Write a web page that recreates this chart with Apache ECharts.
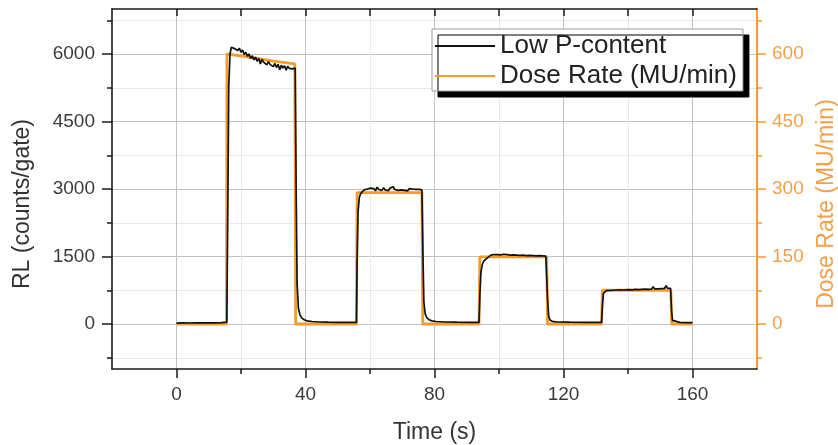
<!DOCTYPE html>
<html>
<head>
<meta charset="utf-8">
<title>RL response vs dose rate</title>
<script src="https://cdn.jsdelivr.net/npm/echarts@6/dist/echarts.min.js"></script>
<style>
  html, body { margin: 0; padding: 0; background: #fff; }
  #chart { width: 838px; height: 445px; }
</style>
</head>
<body>
<div id="chart"></div>
<script>
// Tick positions for each axis
const timeTicks = [0, 40, 80, 120, 160];
const timeMinorTicks = [20, 60, 100, 140];
const timeTopTicks = [0, 20, 40, 60, 80, 100, 120, 140, 160];
const rlTicks = [0, 1500, 3000, 4500, 6000];
const rlMinorTicks = [-750, 750, 2250, 3750, 5250, 6750];
const doseTicks = [0, 150, 300, 450, 600];
const doseMinorTicks = [-75, 75, 225, 375, 525, 675];

// Dose rate delivered by the linac, [time (s), MU/min]
const doseRate = [
  [0, 0], [15.5, 0], [15.65, 600], [20, 596], [25, 590], [30, 584], [36.7, 578], [36.95, 0],
  [55.8, 0], [56.0, 292], [76.1, 292], [76.35, 0],
  [93.8, 0], [94.05, 149], [114.8, 149], [115.05, 0],
  [131.8, 0], [132.05, 75], [153.3, 75], [153.55, 0], [160, 0]
];

// Radioluminescence signal, low P-content fibre, [time (s), counts/gate]
const lowPContent = [
  [0, 20], [2, 25], [4, 22], [6, 28], [8, 24], [10, 27], [12, 25], [14, 30], [15.6, 40],
  [15.9, 2500], [16.2, 5300], [16.6, 6000], [17.0, 6150], [17.5, 6180], [18.0, 6120], [18.5, 6160],
  [19.0, 6080], [19.5, 6130], [20.0, 6040], [20.5, 6090], [21.0, 5990], [21.5, 6040], [22.0, 5950],
  [22.5, 6000], [23.0, 5900], [23.5, 5960], [24.0, 5870], [24.5, 5930], [25.0, 5840], [25.5, 5900],
  [26.0, 5780], [26.5, 5880], [27.0, 5820], [27.5, 5860], [28.0, 5760], [28.5, 5830], [29.0, 5770],
  [29.5, 5810], [30.0, 5720], [30.5, 5790], [31.0, 5700], [31.5, 5770], [32.0, 5650], [32.5, 5750],
  [33.0, 5690], [33.5, 5740], [34.0, 5640], [34.5, 5730], [35.0, 5680], [35.5, 5720], [36.0, 5670],
  [36.4, 5710], [36.8, 5690], [37.1, 3000], [37.4, 900], [37.8, 350], [38.3, 200], [38.9, 130],
  [39.6, 95], [40.5, 70], [42, 55], [44, 45], [47, 40], [50, 38], [53, 35], [55.8, 35],
  [56.0, 1400], [56.3, 2500], [56.7, 2820], [57.2, 2910], [57.7, 2950], [58.2, 2980], [58.7, 2960],
  [59.2, 3000], [59.7, 2970], [60.2, 3020], [60.7, 2980], [61.2, 3010], [61.7, 2960], [62.2, 3040],
  [62.7, 2990], [63.2, 3020], [63.7, 2970], [64.2, 3030], [64.7, 2980], [65.2, 3010], [65.7, 2960],
  [66.2, 3020], [66.7, 2980], [67.2, 3050], [67.7, 2990], [68.2, 3020], [68.7, 2970], [69.2, 3010],
  [69.7, 2980], [70.2, 3020], [70.7, 2970], [71.2, 3000], [71.7, 2960], [72.2, 3010], [72.7, 2980],
  [73.2, 3000], [73.7, 2970], [74.2, 2990], [74.7, 2960], [75.2, 2990], [75.7, 2970], [76.1, 2980],
  [76.4, 1600], [76.7, 500], [77.1, 230], [77.6, 140], [78.3, 95], [79.2, 70], [80.5, 55], [83, 45],
  [87, 40], [91, 38], [93.8, 35],
  [94.1, 700], [94.4, 1150], [94.8, 1320], [95.3, 1400], [95.8, 1440], [96.4, 1470], [97.0, 1500],
  [97.5, 1530], [98.0, 1510], [98.5, 1545], [99.0, 1515], [99.5, 1540], [100.0, 1505], [100.5, 1535],
  [101, 1510], [101.5, 1550], [102, 1515], [102.5, 1540], [103, 1500], [103.5, 1530], [104, 1510],
  [104.5, 1535], [105, 1505], [105.5, 1530], [106, 1500], [106.5, 1525], [107, 1505], [107.5, 1530],
  [108, 1500], [108.5, 1520], [109, 1495], [109.5, 1525], [110, 1500], [110.5, 1520], [111, 1495],
  [111.5, 1515], [112, 1490], [112.5, 1520], [113, 1495], [113.5, 1515], [114, 1500], [114.5, 1510],
  [114.8, 1480], [115.1, 500], [115.4, 180], [115.8, 90], [116.5, 60], [118, 45], [122, 40],
  [127, 38], [131.8, 35],
  [132.1, 450], [132.4, 680], [132.8, 720], [133.3, 740], [133.8, 755], [134.3, 745], [134.8, 765],
  [135.3, 750], [135.8, 770], [136.3, 755], [136.8, 775], [137.3, 760], [137.8, 780], [138.3, 755],
  [138.8, 775], [139.3, 760], [139.8, 785], [140.3, 765], [140.8, 780], [141.3, 760], [141.8, 790],
  [142.3, 770], [142.8, 785], [143.3, 765], [143.8, 790], [144.3, 770], [144.8, 800], [145.3, 775],
  [145.8, 790], [146.3, 770], [146.8, 795], [147.3, 775], [147.8, 830], [148.3, 780], [148.8, 800],
  [149.3, 780], [149.8, 820], [150.3, 785], [150.8, 810], [151.3, 790], [151.8, 850], [152.3, 795],
  [152.8, 810], [153.2, 790], [153.5, 300], [153.8, 80], [154.3, 45], [156, 35], [158, 32], [160, 30]
];

const FONT = "'Liberation Sans', Arial, sans-serif";
const INK = '#1a1a1a';
const LABEL = '#3a3a3a';
const ORANGE = '#F59B2A';
const ORANGE_TEXT = '#F2A04A';
const GRID_MAJOR = '#c2c2c2';
const GRID_MINOR = '#e8e8e8';

const plain = v => String(v);

const chart = echarts.init(document.getElementById('chart'), null, { renderer: 'canvas' });

const timeRange = { type: 'value', min: -20, max: 180 };
const rlRange = { type: 'value', min: -1000, max: 7000 };
const doseRange = { type: 'value', min: -100, max: 700 };

chart.setOption({
  animation: false,
  backgroundColor: '#fff',
  textStyle: { fontFamily: FONT },
  grid: { left: 112, right: 81, top: 9, bottom: 76, containLabel: false, outerBoundsMode: 'none' },
  legend: {
    data: [
      { name: 'Low P-content', icon: 'rect' },
      { name: 'Dose Rate (MU/min)', icon: 'rect' }
    ],
    orient: 'vertical',
    left: 432,
    top: 29,
    padding: [4, 6, 2, 3],
    itemGap: 4,
    itemWidth: 60,
    itemHeight: 2,
    backgroundColor: '#fff',
    borderColor: '#9a9a9a',
    borderWidth: 1,
    shadowColor: '#000',
    shadowBlur: 0,
    shadowOffsetX: 6,
    shadowOffsetY: 6,
    textStyle: { fontFamily: FONT, fontSize: 26, color: '#222', lineHeight: 26 }
  },
  xAxis: [
    Object.assign({}, timeRange, {
      position: 'bottom',
      name: 'Time (s)',
      nameLocation: 'middle',
      nameGap: 52,
      nameTextStyle: { fontFamily: FONT, fontSize: 23, color: '#333' },
      axisLine: { onZero: false, lineStyle: { color: INK, width: 1.6 } },
      axisTick: { customValues: timeTicks, length: 9, lineStyle: { color: INK, width: 1.5 } },
      axisLabel: { customValues: timeTicks, formatter: plain, margin: 16, fontSize: 19, color: LABEL, fontFamily: FONT },
      splitLine: { show: true, lineStyle: { color: GRID_MAJOR, width: 1 } }
    }),
    Object.assign({}, timeRange, {
      position: 'bottom',
      axisLine: { show: false, onZero: false },
      axisTick: { customValues: timeMinorTicks, length: 5, lineStyle: { color: INK, width: 1.5 } },
      axisLabel: { show: false },
      splitLine: { show: true, lineStyle: { color: GRID_MINOR, width: 1 } }
    }),
    Object.assign({}, timeRange, {
      position: 'top',
      axisLine: { onZero: false, lineStyle: { color: INK, width: 1.6 } },
      axisTick: { customValues: timeTopTicks, inside: true, length: 7, lineStyle: { color: INK, width: 1.5 } },
      axisLabel: { show: false },
      splitLine: { show: false }
    })
  ],
  yAxis: [
    Object.assign({}, rlRange, {
      position: 'left',
      name: 'RL (counts/gate)',
      nameLocation: 'middle',
      nameRotate: 90,
      nameGap: 78,
      nameTextStyle: { fontFamily: FONT, fontSize: 23, color: '#333', padding: [0, 30, 0, 0] },
      axisLine: { onZero: false, lineStyle: { color: INK, width: 1.6 } },
      axisTick: { customValues: rlTicks, length: 10, lineStyle: { color: INK, width: 1.5 } },
      axisLabel: { customValues: rlTicks, formatter: plain, margin: 17, fontSize: 19, color: LABEL, fontFamily: FONT },
      splitLine: { show: true, lineStyle: { color: GRID_MAJOR, width: 1 } }
    }),
    Object.assign({}, rlRange, {
      position: 'left',
      axisLine: { show: false, onZero: false },
      axisTick: { customValues: rlMinorTicks, length: 5, lineStyle: { color: INK, width: 1.5 } },
      axisLabel: { show: false },
      splitLine: { show: true, lineStyle: { color: GRID_MINOR, width: 1 } }
    }),
    Object.assign({}, doseRange, {
      position: 'right',
      name: 'Dose Rate (MU/min)',
      nameLocation: 'middle',
      nameRotate: 90,
      nameGap: 58,
      nameTextStyle: { fontFamily: FONT, fontSize: 23, color: ORANGE_TEXT, padding: [0, 30, 0, 0] },
      axisLine: { onZero: false, lineStyle: { color: ORANGE, width: 2 } },
      axisTick: { customValues: doseTicks, length: 9, lineStyle: { color: ORANGE, width: 1.5 } },
      axisLabel: { customValues: doseTicks, formatter: plain, margin: 15, fontSize: 19, color: ORANGE_TEXT, fontFamily: FONT },
      splitLine: { show: false }
    }),
    Object.assign({}, doseRange, {
      position: 'right',
      axisLine: { show: false, onZero: false },
      axisTick: { customValues: doseMinorTicks, length: 5, lineStyle: { color: ORANGE, width: 1.5 } },
      axisLabel: { show: false },
      splitLine: { show: false }
    })
  ],
  series: [
    {
      name: 'Dose Rate (MU/min)',
      type: 'line',
      xAxisIndex: 0,
      yAxisIndex: 2,
      data: doseRate,
      symbol: 'none',
      lineStyle: { color: ORANGE, width: 2.8 },
      itemStyle: { color: ORANGE },
      z: 3
    },
    {
      name: 'Low P-content',
      type: 'line',
      xAxisIndex: 0,
      yAxisIndex: 0,
      data: lowPContent,
      symbol: 'none',
      lineStyle: { color: '#111', width: 1.7 },
      itemStyle: { color: '#111' },
      z: 4
    }
  ]
});
</script>
</body>
</html>
